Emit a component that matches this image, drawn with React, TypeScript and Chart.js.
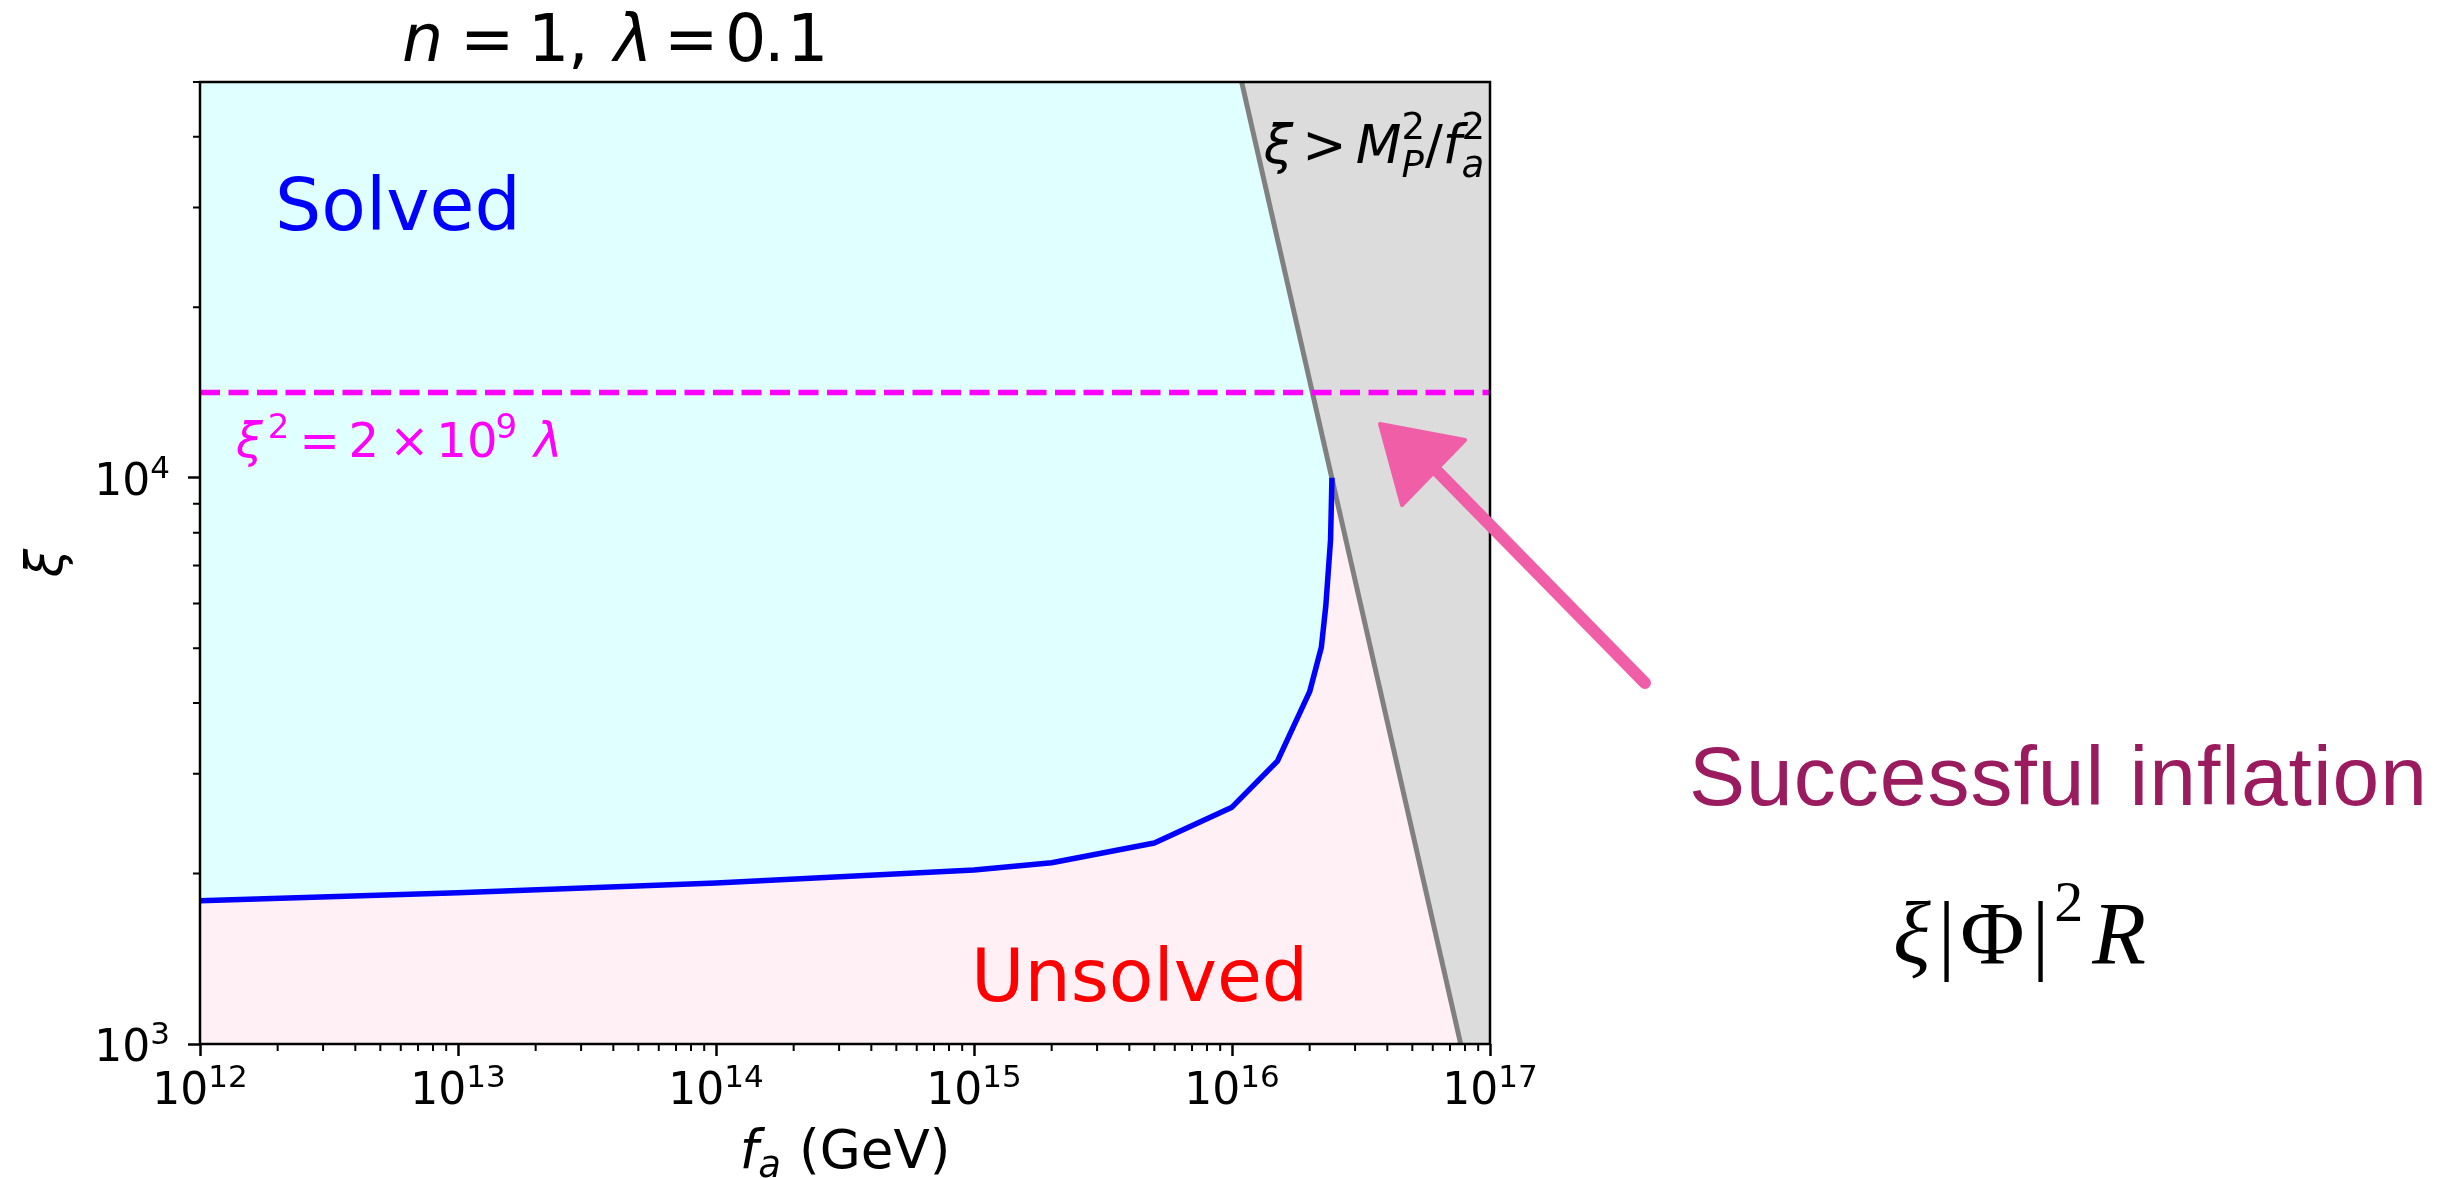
import React, { useEffect, useRef } from 'react';
import { Chart, registerables } from 'chart.js';

Chart.register(...registerables);

// ---------------- data ----------------
const faBoundary = [1e12, 1e13, 1e14, 1e15, 2e15, 5e15, 1e16, 1.5e16, 2e16, 2.22e16, 2.31e16, 2.41e16, 2.44e16];
const xiBoundary = [1790, 1850, 1925, 2030, 2090, 2265, 2620, 3160, 4190, 5020, 5940, 7770, 10000];
const faPlanck = [1.09e16, 7.7e16];
const xiPlanck = [5e4, 1e3];
const faUnitarity = [1e12, 1e17];
const xiUnitarity = [14142, 14142];
const faRange = [1e12, 1e17];
const xiRange = [1e3, 5e4];
const xTickExponents = [12, 13, 14, 15, 16, 17];
const yTickExponents = [3, 4];
const minorSteps = [2, 3, 4, 5, 6, 7, 8, 9];

// ---------------- layout ----------------
const W = 2457;
const H = 1178;
const PLOT = { left: 200, top: 82, right: 1490, bottom: 1044 };
const SANS = '"DejaVu Sans"';

function isMajor(v: number) {
  const l = Math.log10(v);
  return Math.abs(l - Math.round(l)) < 1e-6;
}

function logTicks(min: number, max: number) {
  const out: number[] = [];
  for (let e = Math.floor(Math.log10(min)); e <= Math.ceil(Math.log10(max)); e++) {
    for (const m of [1, ...minorSteps]) {
      const v = m * Math.pow(10, e);
      if (v >= min * 0.999999 && v <= max * 1.000001) out.push(v);
    }
  }
  return out;
}

type Run = { t: string; size: number; italic?: boolean; dy?: number; gap?: number; stack?: boolean; at?: number; family?: string; color?: string };

function drawRuns(ctx: CanvasRenderingContext2D, runs: Run[], x: number, y: number, align: 'left' | 'right' | 'center', color: string, family = SANS) {
  const placed: { r: Run; start: number; font: string }[] = [];
  let cursor = 0;
  let prevStart = 0;
  for (const r of runs) {
    const font = `${r.italic ? 'italic ' : ''}${r.size}px ${r.family || family}`;
    ctx.font = font;
    const w = ctx.measureText(r.t).width;
    let start: number;
    if (r.stack) {
      start = prevStart;
      cursor = Math.max(cursor, start + w);
    } else {
      start = r.at !== undefined ? r.at : cursor + (r.gap || 0);
      cursor = start + w;
      prevStart = start;
    }
    placed.push({ r, start, font });
  }
  const total = cursor;
  const x0 = align === 'left' ? x : align === 'right' ? x - total : x - total / 2;
  ctx.textAlign = 'left';
  ctx.textBaseline = 'alphabetic';
  for (const p of placed) {
    ctx.font = p.font;
    ctx.fillStyle = p.r.color || color;
    ctx.fillText(p.r.t, x0 + p.start, y + (p.r.dy || 0));
  }
}

const overlay = {
  id: 'overlay',
  afterDatasetsDraw(chart: any) {
    const { ctx, chartArea: a } = chart;
    ctx.save();
    ctx.strokeStyle = '#000';
    ctx.lineWidth = 2.5;
    ctx.strokeRect(a.left, a.top, a.right - a.left, a.bottom - a.top);
    ctx.restore();
  },
  afterDraw(chart: any) {
    const { ctx, chartArea: a, scales } = chart;
    const xs = scales.x;
    const ys = scales.y;
    ctx.save();

    // minor ticks
    ctx.strokeStyle = '#000';
    ctx.lineWidth = 2;
    ctx.beginPath();
    for (const t of xs.ticks) {
      if (isMajor(t.value)) continue;
      const px = xs.getPixelForValue(t.value);
      ctx.moveTo(px, a.bottom);
      ctx.lineTo(px, a.bottom + 7);
    }
    for (const t of ys.ticks) {
      if (isMajor(t.value)) continue;
      const py = ys.getPixelForValue(t.value);
      ctx.moveTo(a.left, py);
      ctx.lineTo(a.left - 7, py);
    }
    ctx.stroke();

    // tick labels 10^n
    for (const e of xTickExponents) {
      const px = xs.getPixelForValue(Math.pow(10, e));
      drawRuns(ctx, [{ t: '10', size: 44 }, { t: String(e), size: 31, dy: -17 }], px, a.bottom + 60, 'center', '#000');
    }
    for (const e of yTickExponents) {
      const py = ys.getPixelForValue(Math.pow(10, e));
      drawRuns(ctx, [{ t: '10', size: 44 }, { t: String(e), size: 31, dy: -17 }], a.left - 30, py + 17, 'right', '#000');
    }

    // title  n = 1,  λ = 0.1
    drawRuns(ctx, [
      { t: 'n', size: 65, italic: true, at: 0 },
      { t: '=', size: 65, at: 58 },
      { t: '1', size: 65, at: 126 },
      { t: ',', size: 65, at: 166 },
      { t: 'λ', size: 65, italic: true, at: 212 },
      { t: '=', size: 65, at: 262 },
      { t: '0', size: 65, at: 323 },
      { t: '.', size: 65, at: 362 },
      { t: '1', size: 65, at: 385 },
    ], 402, 61, 'left', '#000');

    // axis labels
    drawRuns(ctx, [
      { t: 'f', size: 53, italic: true },
      { t: 'a', size: 37, italic: true, dy: 9 },
      { t: '(GeV)', size: 53, gap: 18 },
    ], (a.left + a.right) / 2, 1168, 'center', '#000');
    ctx.save();
    ctx.translate(62, (a.top + a.bottom) / 2);
    ctx.rotate(-Math.PI / 2);
    ctx.font = `italic 51px ${SANS}`;
    ctx.fillStyle = '#000';
    ctx.textAlign = 'center';
    ctx.textBaseline = 'alphabetic';
    ctx.fillText('ξ', 0, 0);
    ctx.restore();

    // region labels
    drawRuns(ctx, [{ t: 'Solved', size: 73 }], 275, 230, 'left', '#0000ff');
    drawRuns(ctx, [{ t: 'Unsolved', size: 73 }], 971, 1001, 'left', '#ff0000');

    // unitarity label
    drawRuns(ctx, [
      { t: 'ξ', size: 48, italic: true },
      { t: '2', size: 34, dy: -19, gap: 5 },
      { t: '=', size: 48, gap: 10 },
      { t: '2', size: 48, gap: 9 },
      { t: '×', size: 48, gap: 10 },
      { t: '10', size: 48, gap: 7 },
      { t: '9', size: 34, dy: -19, gap: -2 },
      { t: 'λ', size: 48, italic: true, gap: 17 },
    ], 236, 457, 'left', '#ff00ff');

    // Planck bound label
    drawRuns(ctx, [
      { t: 'ξ', size: 53, italic: true },
      { t: '>', size: 53, gap: 9 },
      { t: 'M', size: 53, italic: true, gap: 9 },
      { t: '2', size: 37, dy: -24 },
      { t: 'P', size: 37, italic: true, dy: 14, stack: true },
      { t: '/', size: 53 },
      { t: 'f', size: 53, italic: true },
      { t: '2', size: 37, dy: -24 },
      { t: 'a', size: 37, italic: true, dy: 14, stack: true },
    ], 1485, 163, 'right', '#000');

    // slide annotations
    ctx.save();
    (ctx as any).letterSpacing = '1px';
    drawRuns(ctx, [{ t: 'Successful inflation', size: 84 }], 1689, 805, 'left', '#9b1b5f', '"Liberation Sans"');
    ctx.restore();
    drawRuns(ctx, [
      { t: 'ξ', size: 88, italic: true },
      { t: '|', size: 88, gap: 7 },
      { t: 'Φ', size: 88, gap: 5 },
      { t: '|', size: 88, gap: 7 },
      { t: '2', size: 58, dy: -42, gap: 5 },
      { t: 'R', size: 88, italic: true, gap: 9 },
    ], 1893, 963, 'left', '#000', '"Liberation Serif"');

    // hand-drawn pink arrow
    ctx.strokeStyle = '#ef5ea6';
    ctx.fillStyle = '#ef5ea6';
    ctx.lineWidth = 12;
    ctx.lineCap = 'round';
    ctx.beginPath();
    ctx.moveTo(1645, 683);
    ctx.lineTo(1436, 470);
    ctx.stroke();
    ctx.lineJoin = 'round';
    ctx.lineWidth = 4;
    ctx.beginPath();
    ctx.moveTo(1380, 424);
    ctx.lineTo(1465, 440);
    ctx.lineTo(1402, 505);
    ctx.closePath();
    ctx.fill();
    ctx.stroke();

    ctx.restore();
  },
};

export default function App() {
  const ref = useRef<HTMLCanvasElement | null>(null);

  useEffect(() => {
    if (!ref.current) return;
    const boundary = faBoundary.map((x, i) => ({ x, y: xiBoundary[i] }));
    const unsolvedPoly = [
      { x: faRange[0], y: xiRange[0] },
      { x: faRange[1], y: xiRange[0] },
      { x: faRange[1], y: xiRange[1] },
      { x: faRange[0], y: xiRange[1] },
    ];
    const solvedPoly = [
      ...boundary,
      { x: faBoundary[faBoundary.length - 1], y: xiRange[1] },
      { x: faRange[0], y: xiRange[1] },
    ];
    const planckLine = faPlanck.map((x, i) => ({ x, y: xiPlanck[i] }));
    const excludedPoly = [
      planckLine[0],
      { x: faRange[1], y: xiRange[1] },
      { x: faRange[1], y: xiRange[0] },
      planckLine[1],
    ];
    const unitarity = faUnitarity.map((x, i) => ({ x, y: xiUnitarity[i] }));

    const poly = (label: string, data: any[], color: string, order: number) => ({
      label, data, order, fill: 'shape', backgroundColor: color, borderColor: 'transparent', borderWidth: 0, pointRadius: 0,
    });
    const line = (label: string, data: any[], color: string, order: number, extra: any = {}) => ({
      label, data, order, fill: false, borderColor: color, borderWidth: 5, pointRadius: 0, clip: 0, ...extra,
    });

    const chart = new Chart(ref.current, {
      type: 'line',
      data: {
        datasets: [
          poly('Unsolved', unsolvedPoly, '#fff0f5', 6),
          poly('Solved', solvedPoly, '#e0ffff', 5),
          poly('Excluded', excludedPoly, '#dcdcdc', 4),
          line('xi = MP^2/fa^2', planckLine, '#808080', 3),
          line('xi^2 = 2e9 lambda', unitarity, '#ff00ff', 2, { borderDash: [20, 8.5], borderWidth: 5.5 }),
          line('boundary', boundary, '#0000ff', 1, { borderJoinStyle: 'round', borderWidth: 5.5 }),
        ] as any,
      },
      options: {
        animation: false,
        responsive: false,
        devicePixelRatio: 1,
        events: [],
        layout: { padding: { left: 0, top: PLOT.top, right: W - PLOT.right, bottom: 0 } },
        elements: { point: { radius: 0 }, line: { tension: 0 } },
        plugins: { legend: { display: false }, title: { display: false }, tooltip: { enabled: false } },
        scales: {
          x: {
            type: 'logarithmic',
            position: 'bottom',
            min: faRange[0],
            max: faRange[1],
            bounds: 'data',
            afterBuildTicks: (s: any) => {
              s.ticks = logTicks(faRange[0], faRange[1]).map((v) => ({ value: v, major: isMajor(v) }));
            },
            afterFit: (s: any) => {
              s.height = H - PLOT.bottom;
            },
            ticks: { display: false, autoSkip: false },
            grid: {
              display: true,
              drawOnChartArea: false,
              drawTicks: true,
              tickLength: 12,
              tickWidth: 2.5,
              tickColor: (c: any) => (c.tick && isMajor(c.tick.value) ? '#000' : 'rgba(0,0,0,0)'),
            },
            border: { display: false },
          },
          y: {
            type: 'logarithmic',
            position: 'left',
            min: xiRange[0],
            max: xiRange[1],
            bounds: 'data',
            afterBuildTicks: (s: any) => {
              s.ticks = logTicks(xiRange[0], xiRange[1]).map((v) => ({ value: v, major: isMajor(v) }));
            },
            afterFit: (s: any) => {
              s.width = PLOT.left;
            },
            ticks: { display: false, autoSkip: false },
            grid: {
              display: true,
              drawOnChartArea: false,
              drawTicks: true,
              tickLength: 12,
              tickWidth: 2.5,
              tickColor: (c: any) => (c.tick && isMajor(c.tick.value) ? '#000' : 'rgba(0,0,0,0)'),
            },
            border: { display: false },
          },
        },
      } as any,
      plugins: [overlay],
    });
    return () => chart.destroy();
  }, []);

  return (
    <div style={{ position: 'fixed', left: 0, top: 0, width: W, height: H, background: '#fff' }}>
      <canvas ref={ref} width={W} height={H} style={{ width: W, height: H, display: 'block' }} />
    </div>
  );
}
